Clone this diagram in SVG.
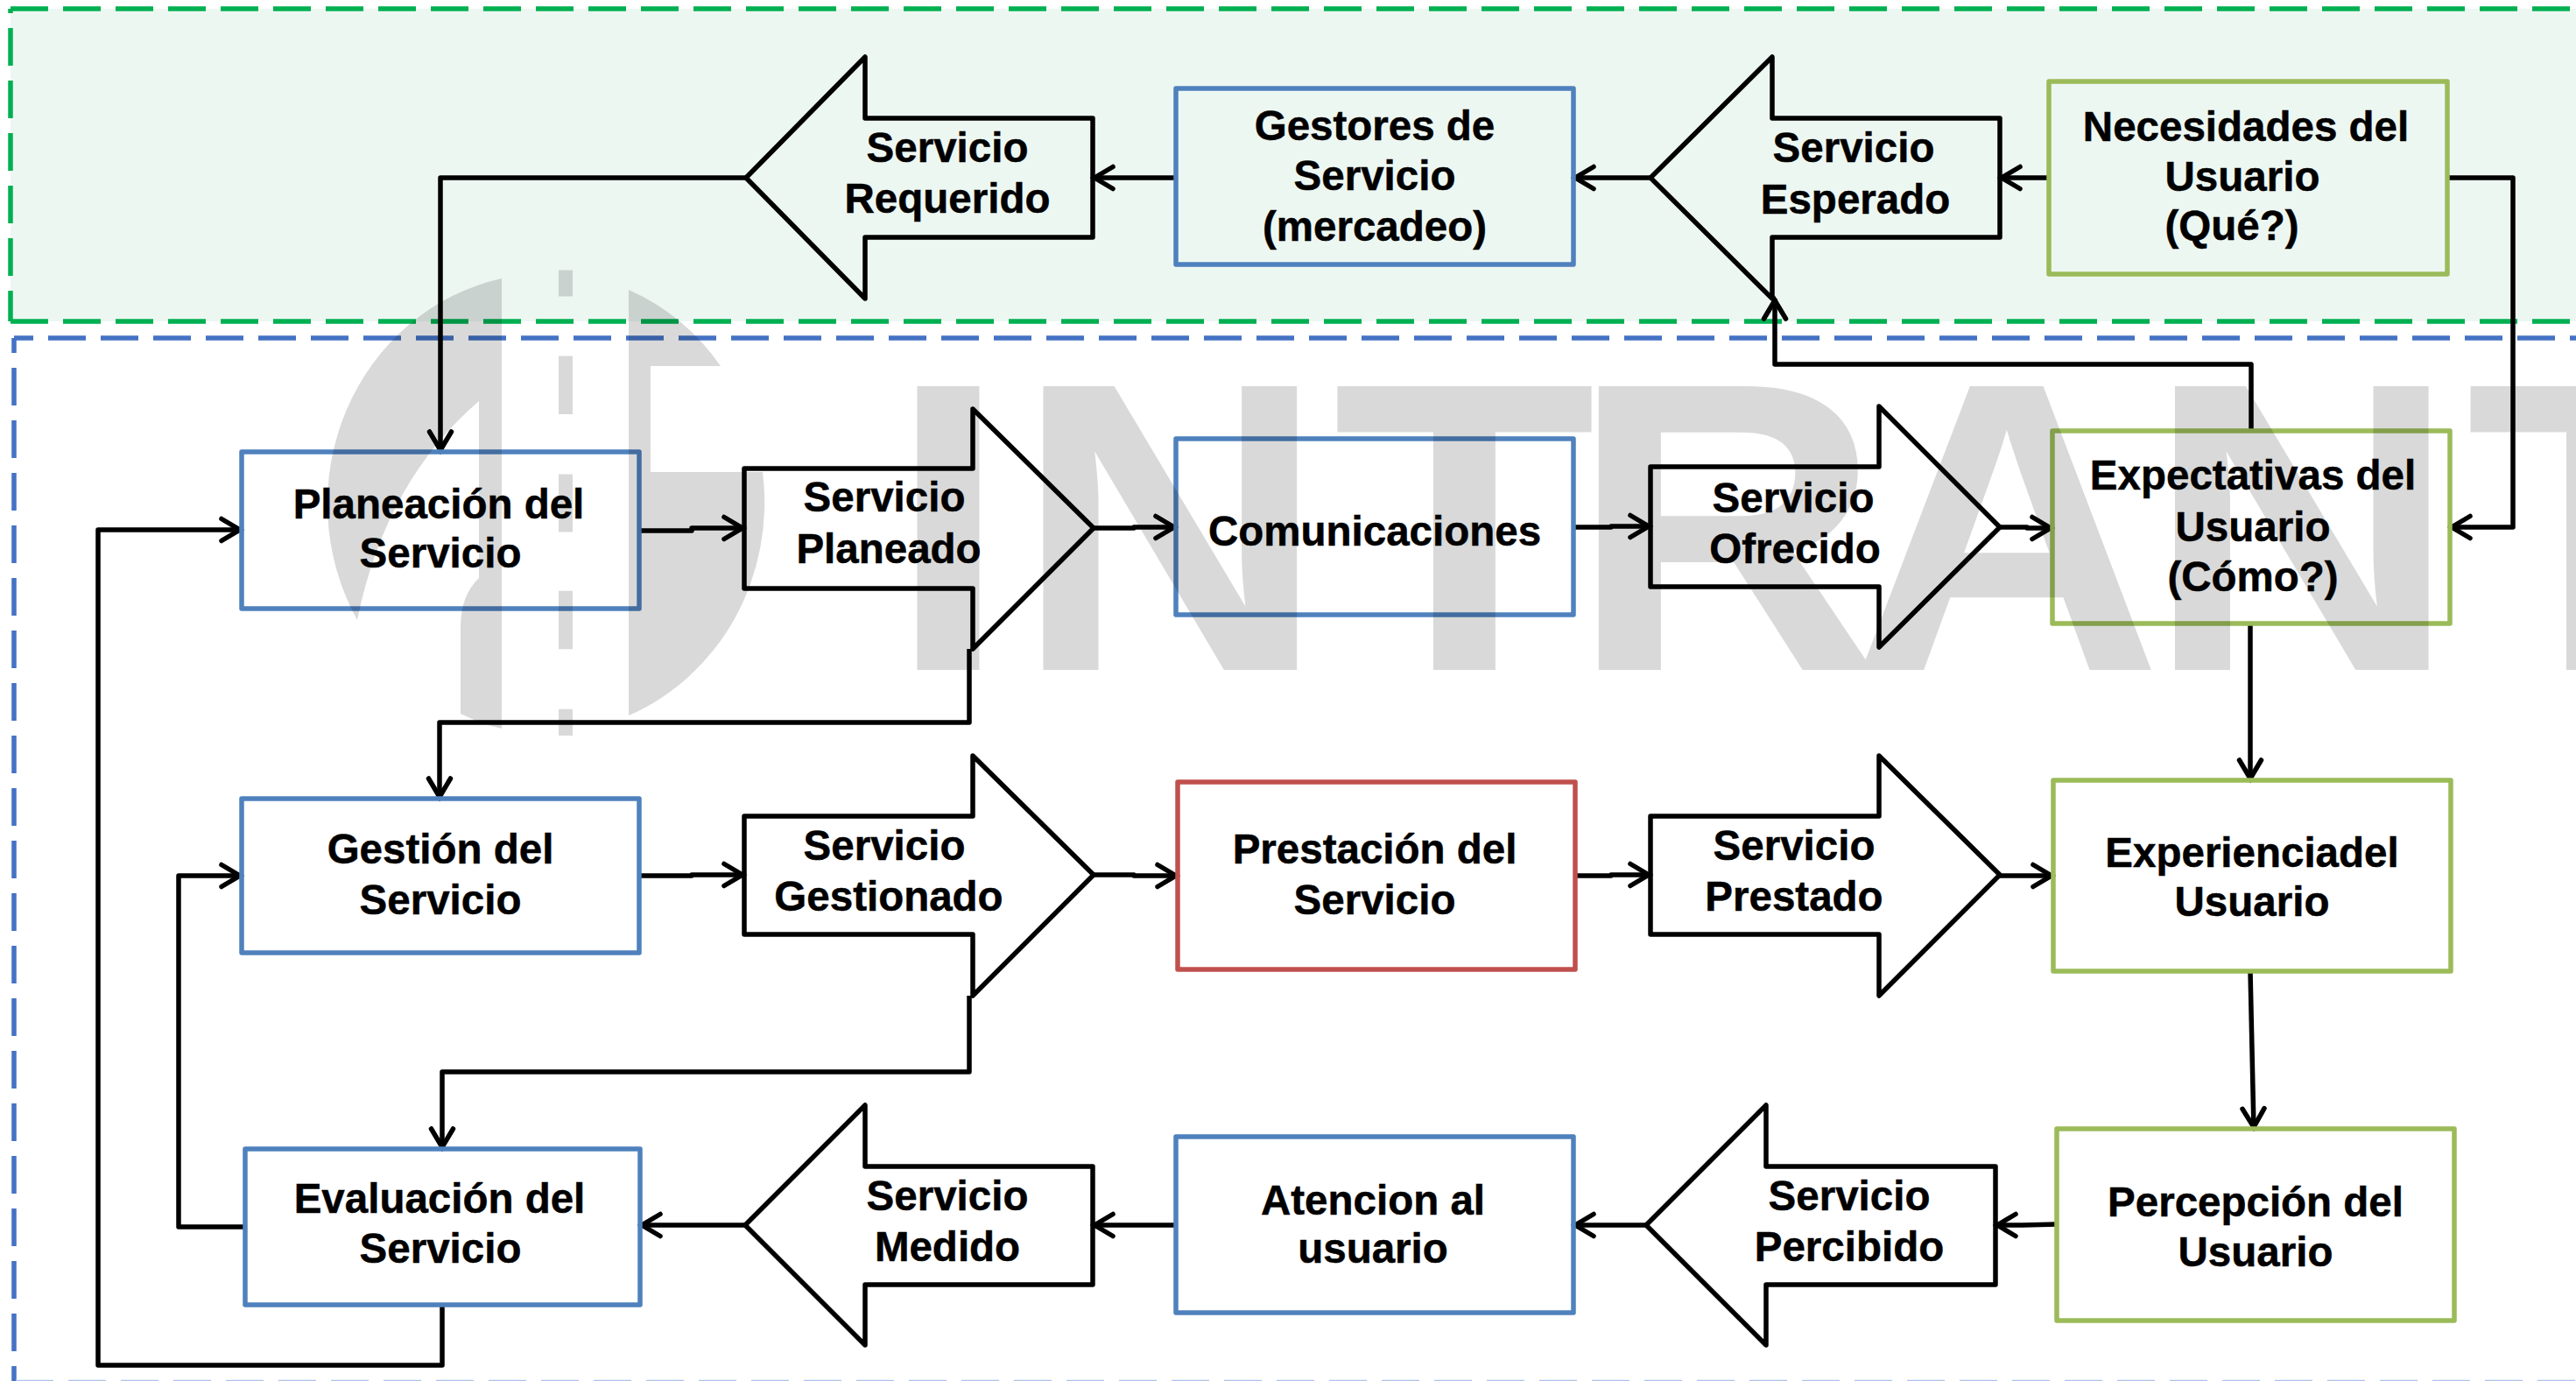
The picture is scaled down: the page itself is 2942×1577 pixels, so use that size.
<svg xmlns="http://www.w3.org/2000/svg" width="2942" height="1577" viewBox="0 0 2942 1577">
<style>
text{font-family:"Liberation Sans",Arial,sans-serif;font-weight:700;font-size:47.5px;fill:#000;text-anchor:middle;stroke:#000;stroke-width:.5px}
.b,.g,.r{fill:none;stroke-width:5.5;stroke-linejoin:round}
.b{stroke:#4F81BD}.g{stroke:#9BBB59}.r{stroke:#C0504D}
.a{fill:none;stroke:#000;stroke-width:5.5;stroke-linejoin:round}
.c path{fill:none;stroke:#000;stroke-width:5.5;stroke-linejoin:round;marker-end:url(#m)}
.dg{fill:none;stroke:#00B050;stroke-width:5.5;stroke-dasharray:43 17}
.db{fill:none;stroke:#4472C4;stroke-width:5.5;stroke-dasharray:43 17}
#watermark{opacity:.15}
#watermark text{font-size:471px;text-anchor:start;stroke:none}
</style>
<defs>
<marker id="m" markerUnits="userSpaceOnUse" markerWidth="40" markerHeight="40" refX="2" refY="0" viewBox="-30 -20 40 40" orient="auto" overflow="visible">
<path d="M-21,-12.5L0,0L-21,12.5" fill="none" stroke="#000" stroke-width="5.5" stroke-linecap="round" stroke-linejoin="miter"/>
</marker>
</defs>
<g id="zones">
<rect x="12" y="10" width="2930" height="357" fill="#EDF7F2"/>
<path class="dg" d="M12,10H2942"/>
<path class="dg" d="M12,367H2942"/>
<path class="dg" d="M12,367V10" stroke-dashoffset="8"/>
<path class="db" d="M16,386H2942" stroke-dashoffset="21"/>
<path class="db" d="M16,386V1577" stroke-dashoffset="26"/>
<path d="M18,1576.5H2942" fill="none" stroke="#AEC3EA" stroke-width="1.5" stroke-dasharray="43 17"/>
</g>
<g id="connectors" class="c">
<path d="M2340,203H2284"/>
<path d="M1885,203H1797"/>
<path d="M1343,203H1248"/>
<path d="M851,203H503V516"/>
<path d="M2795,203H2870V602H2798"/>
<path d="M2571,492V416H2027V341"/>
<path d="M730,606H790V603H850"/>
<path d="M1249,603H1295V602H1343"/>
<path d="M1797,602H1840V601H1885"/>
<path d="M2284,602H2315V603H2344"/>
<path d="M1107,741V825H502V912"/>
<path d="M2570,712V891"/>
<path d="M730,1000H790V999H850"/>
<path d="M1249,999H1295V1000H1345"/>
<path d="M1799,1000H1840V999H1885"/>
<path d="M2284,1000H2345"/>
<path d="M1107,1137V1224H505V1312"/>
<path d="M280,1401H204V1000H276"/>
<path d="M505,1490V1559H112V605H276"/>
<path d="M2570,1109L2574,1289"/>
<path d="M2349,1398L2310,1399H2279"/>
<path d="M1880,1399H1797"/>
<path d="M1343,1399H1248"/>
<path d="M851,1399H731"/>
</g>
<g id="servicio-requerido"><path class="a" d="M852,203L988,65V135H1248V271H988V341Z"/><text x="1082" y="185">Servicio</text><text x="1082" y="243">Requerido</text></g>
<g id="gestores"><rect class="b" x="1343" y="101" width="454" height="201"/><text x="1570" y="160">Gestores de</text><text x="1570" y="217">Servicio</text><text x="1570" y="275">(mercadeo)</text></g>
<g id="servicio-esperado"><path class="a" d="M1885,203L2024,65V135H2284V271H2024V341Z"/><text x="2117" y="185">Servicio</text><text x="2119" y="244">Esperado</text></g>
<g id="necesidades"><rect class="g" x="2340" y="93" width="455" height="220"/><text x="2565" y="161">Necesidades del</text><text x="2561" y="218">Usuario</text><text x="2549" y="274">(Qué?)</text></g>
<g id="planeacion"><rect class="b" x="276" y="516" width="454" height="179"/><text x="501" y="592">Planeación del</text><text x="503" y="648">Servicio</text></g>
<g id="servicio-planeado"><path class="a" d="M850,535H1111V467L1249,603L1111,741V672H850Z"/><text x="1010" y="584">Servicio</text><text x="1015" y="643">Planeado</text></g>
<g id="comunicaciones"><rect class="b" x="1343" y="501" width="454" height="201"/><text x="1570" y="623">Comunicaciones</text></g>
<g id="servicio-ofrecido"><path class="a" d="M1885,533H2146V464L2284,602L2146,739V670H1885Z"/><text x="2048" y="585">Servicio</text><text x="2050" y="643">Ofrecido</text></g>
<g id="expectativas"><rect class="g" x="2344" y="492" width="454" height="220"/><text x="2573" y="559">Expectativas del</text><text x="2573" y="618">Usuario</text><text x="2573" y="675">(Cómo?)</text></g>
<g id="gestion"><rect class="b" x="276" y="912" width="454" height="176"/><text x="503" y="986">Gestión del</text><text x="503" y="1044">Servicio</text></g>
<g id="servicio-gestionado"><path class="a" d="M850,932H1111V863L1249,999L1111,1137V1067H850Z"/><text x="1010" y="982">Servicio</text><text x="1015" y="1040">Gestionado</text></g>
<g id="prestacion"><rect class="r" x="1345" y="893" width="454" height="214"/><text x="1570" y="986">Prestación del</text><text x="1570" y="1044">Servicio</text></g>
<g id="servicio-prestado"><path class="a" d="M1885,932H2146V863L2284,999L2146,1137V1067H1885Z"/><text x="2049" y="982">Servicio</text><text x="2049" y="1040">Prestado</text></g>
<g id="experiencia"><rect class="g" x="2345" y="891" width="454" height="218"/><text x="2572" y="990">Experienciadel</text><text x="2572" y="1046">Usuario</text></g>
<g id="evaluacion"><rect class="b" x="280" y="1312" width="451" height="178"/><text x="502" y="1385">Evaluación del</text><text x="503" y="1442">Servicio</text></g>
<g id="servicio-medido"><path class="a" d="M851,1399L988,1262V1332H1248V1467H988V1536Z"/><text x="1082" y="1382">Servicio</text><text x="1082" y="1440">Medido</text></g>
<g id="atencion"><rect class="b" x="1343" y="1298" width="454" height="201"/><text x="1568" y="1387">Atencion al</text><text x="1568" y="1442">usuario</text></g>
<g id="servicio-percibido"><path class="a" d="M1880,1399L2017,1262V1332H2279V1467H2017V1536Z"/><text x="2112" y="1382">Servicio</text><text x="2112" y="1440">Percibido</text></g>
<g id="percepcion"><rect class="g" x="2349" y="1289" width="454" height="219"/><text x="2576" y="1389">Percepción del</text><text x="2576" y="1446">Usuario</text></g>
<g id="watermark">
<path d="M573,318A250,263 0 0 0 408,708Q440,550 547,458V660Q526,680 526,716V815Q550,827 573,832Z"/>
<path d="M718,331A250,263 0 0 1 823,418H743V539H871A250,263 0 0 1 718,817Z"/>
<path d="M638,308.5h16v30h-16zM638,406.5h16v66.5h-16zM638,541.6h16v65.8h-16zM638,674.8h16v66.5h-16zM638,809.8h16v30.2h-16z"/>
<text transform="translate(0,765) scale(1.046,1)" x="969.9 1107.6 1455 1714.1 2021 2343.2 2692.2" y="0">INTRANT</text>
</g>
</svg>
